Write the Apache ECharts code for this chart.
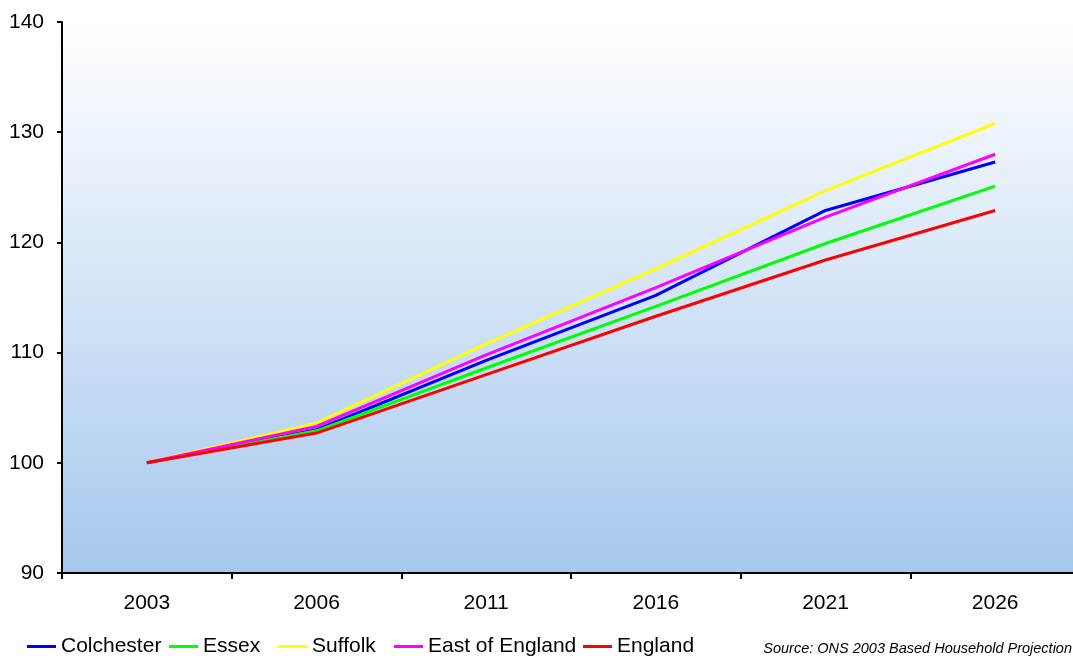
<!DOCTYPE html>
<html><head><meta charset="utf-8">
<script src="https://cdn.jsdelivr.net/npm/echarts@6/dist/echarts.min.js"></script>
<style>html,body{margin:0;padding:0;background:#fff;overflow:hidden}#c{width:1080px;height:656px}</style>
</head><body><div id="c"></div>
<script>
const years = ['2003','2006','2011','2016','2021','2026'];
const colchester = [100, 103.0, 109.3, 115.2, 122.9, 127.3];
const essex = [100, 102.9, 108.6, 114.2, 119.9, 125.1];
const suffolk = [100, 103.6, 110.8, 117.6, 124.7, 130.8];
const eastOfEngland = [100, 103.3, 109.8, 115.9, 122.3, 128.0];
const england = [100, 102.7, 108.0, 113.3, 118.4, 122.9];
const seriesNames = ['Colchester','Essex','Suffolk','East of England','England'];
const seriesColors = ['#0000FF','#00FF00','#FFFF00','#FF00FF','#FF0000'];
const seriesData = [colchester, essex, suffolk, eastOfEngland, england];
const legendLeft = [27, 169, 278, 394, 583];

const chart = echarts.init(document.getElementById('c'));
chart.setOption({
  animation:false,
  textStyle:{fontFamily:'Liberation Sans, Arial, sans-serif'},
  grid:{left:62,right:0,top:22,height:551,show:true,borderWidth:0,
    backgroundColor:new echarts.graphic.LinearGradient(0,0,0,1,[{offset:0,color:'#FFFFFF'},{offset:1,color:'#A6C8EE'}])},
  legend:seriesNames.map((n,i)=>({left:legendLeft[i],top:636,padding:0,itemWidth:29,itemHeight:3,icon:'rect',
    textStyle:{fontSize:21,color:'#000'},data:[n]})),
  graphic:[{type:'text',right:8,top:641,style:{text:'Source: ONS 2003 Based Household Projection',fill:'#000',font:'italic 14.5px "Liberation Sans", Arial, sans-serif'}}],
  xAxis:{type:'category',data:years,boundaryGap:true,
    axisLine:{lineStyle:{color:'#000',width:2}},
    axisTick:{show:true,length:6,lineStyle:{color:'#000',width:2}},
    axisLabel:{fontSize:21,color:'#000',margin:20}},
  yAxis:{type:'value',min:90,max:140,interval:10,
    axisLine:{show:true,lineStyle:{color:'#000',width:2}},
    axisTick:{show:true,length:5,lineStyle:{color:'#000',width:2}},
    splitLine:{show:false},
    axisLabel:{fontSize:21,color:'#000',margin:18}},
  series:seriesNames.map((n,i)=>({name:n,type:'line',data:seriesData[i],showSymbol:false,symbol:'none',
    lineStyle:{color:seriesColors[i],width:3},itemStyle:{color:seriesColors[i]}}))
});
</script></body></html>
